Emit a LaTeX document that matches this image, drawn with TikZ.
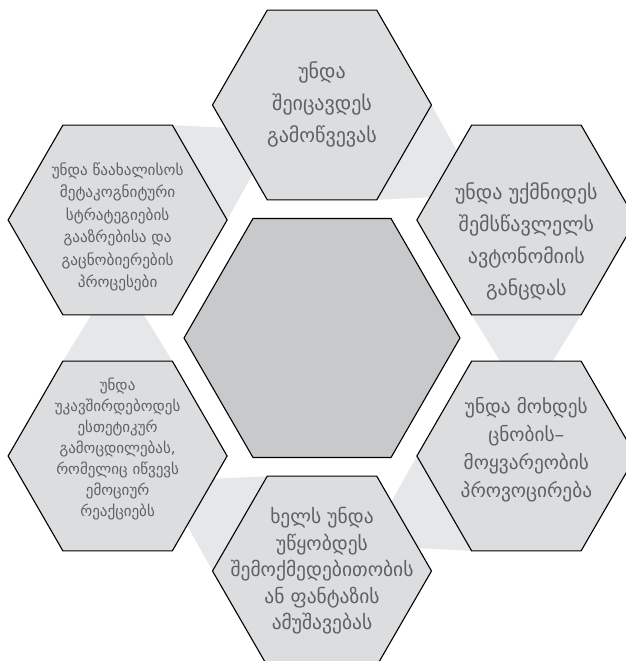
\documentclass[tikz,border=0pt]{standalone}
\usepackage{fontspec}
\setmainfont{DejaVu Sans}
\usepackage{tikz}
\usetikzlibrary{calc, shapes.geometric, backgrounds}
\definecolor{hexgrey}{HTML}{DCDDDE}
\definecolor{coregrey}{HTML}{C8C9CA}
\definecolor{linkgrey}{HTML}{E6E7E8}
\definecolor{textgrey}{HTML}{5F6062}

\begin{document}
\begin{tikzpicture}[
        x=1pt, y=1pt,
        hexagon/.style = {draw=black, regular polygon, regular polygon sides=6, minimum size=219pt, inner sep=0pt, fill=hexgrey, line width=1.1pt},
        core/.style = {hexagon, minimum size=276pt, fill=coregrey},
        link/.style = {fill=linkgrey},
        bigtext/.style = {align=center, text=textgrey, font=\fontsize{20}{32}\selectfont},
        smalltext/.style = {align=center, text=textgrey, font=\fontsize{15.2}{22.5}\selectfont}
    ]

        \useasboundingbox (-322,-323) rectangle (304,338);

        % === Hexagons ===
        \node (core) [core] at (0,0) {};

        \node (hexTop) [hexagon] at (90:233pt) {};
        \node (hexTR) [hexagon] at (30:236pt) {};
        \node (hexBR) [hexagon] at (-30:236pt) {};
        \node (hexBot) [hexagon] at (-90:233pt) {};
        \node (hexBL) [hexagon] at (-150:236pt) {};
        \node (hexTL) [hexagon] at (150:236pt) {};

        % === Links (behind) ===
        \begin{scope}[on background layer]
            \foreach \a/\b/\d in {hexTop/hexTR/-30, hexTR/hexBR/-90, hexBR/hexBot/-150, hexBot/hexBL/150, hexBL/hexTL/90, hexTL/hexTop/30}
                \fill [link] ($(\a)+(\d+30:109.5pt)$) -- ($(\a)+(\d-30:109.5pt)$) -- ($(\a)!0.78!(\b)$) -- cycle;
        \end{scope}

        % === Texts ===
        \node (txtTop) [bigtext] at (hexTop) {უნდა\\შეიცავდეს\\გამოწვევას};
        \node (txtTR) [bigtext, yshift=-21pt] at (hexTR) {უნდა უქმნიდეს\\შემსწავლელს\\ავტონომიის\\განცდას};
        \node (txtBR) [bigtext, font=\fontsize{19.3}{28}\selectfont, yshift=6pt] at (hexBR) {უნდა მოხდეს\\ცნობის–\\მოყვარეობის\\პროვოცირება};
        \node (txtBot) [bigtext, font=\fontsize{19.5}{26.5}\selectfont] at (hexBot) {ხელს უნდა\\უწყობდეს\\შემოქმედებითობის\\ან ფანტაზის\\ამუშავებას};
        \node (txtBL) [smalltext, font=\fontsize{15}{21}\selectfont, yshift=7pt] at (hexBL) {უნდა\\უკავშირდებოდეს\\ესთეტიკურ\\გამოცდილებას,\\რომელიც იწვევს\\ემოციურ\\რეაქციებს};
        \node (txtTL) [smalltext, yshift=-7pt] at (hexTL) {უნდა წაახალისოს\\მეტაკოგნიტური\\სტრატეგიების\\გააზრებისა და\\გაცნობიერების\\პროცესები};

    \end{tikzpicture}
\end{document}
